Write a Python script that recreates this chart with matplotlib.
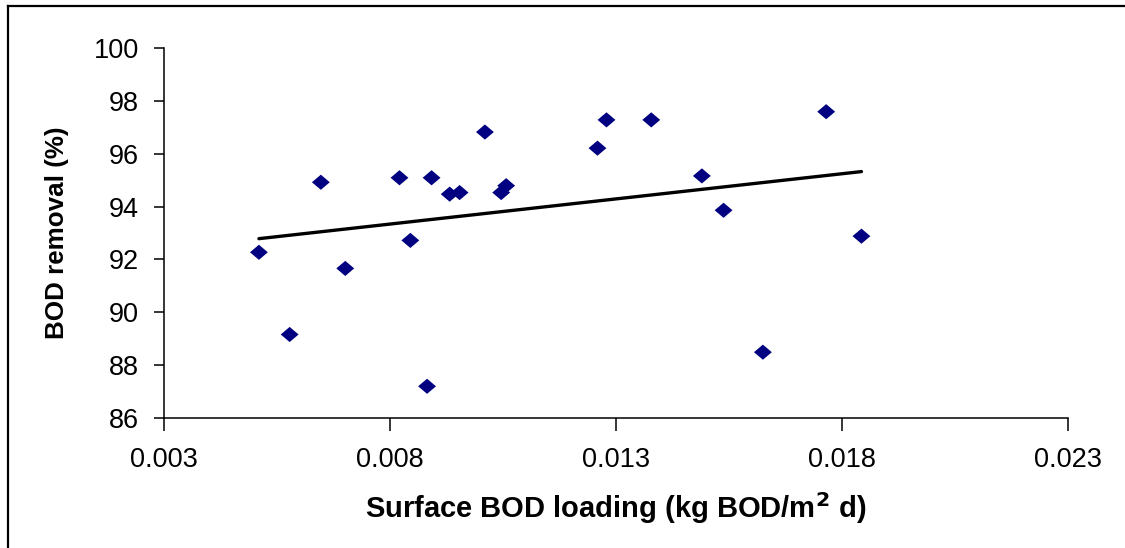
import numpy as np
import matplotlib.pyplot as plt
from matplotlib.lines import Line2D

# Surface BOD loading (kg BOD/m2 d) and BOD removal (%)
loading = [0.00510, 0.00578, 0.00647, 0.00701, 0.00821, 0.00845, 0.00882,
           0.00892, 0.00932, 0.00954, 0.01010, 0.01046, 0.01057, 0.01259,
           0.01279, 0.01378, 0.01490, 0.01538, 0.01625, 0.01765, 0.01843]
removal = [92.27, 89.16, 94.92, 91.66, 95.09, 92.72, 87.20,
           95.09, 94.47, 94.53, 96.82, 94.53, 94.79, 96.21,
           97.28, 97.28, 95.16, 93.86, 88.49, 97.59, 92.88]

x_ticks = [0.003, 0.008, 0.013, 0.018, 0.023]
y_ticks = [86, 88, 90, 92, 94, 96, 98, 100]

plt.rcParams['font.family'] = ['Liberation Sans', 'DejaVu Sans']

fig = plt.figure(figsize=(11.25, 5.48), dpi=100)
ax = fig.add_axes([164 / 1125, 1 - 418 / 548, (1068 - 164) / 1125, (418 - 48) / 548])

# linear trend line over the data range
slope, intercept = np.polyfit(loading, removal, 1)
xl = np.array([min(loading), max(loading)])
ax.plot(xl, slope * xl + intercept, color='black', lw=2.4, solid_capstyle='round', zorder=2)

diamond = [(-1, 0), (0, 0.85), (1, 0), (0, -0.85), (-1, 0)]
ax.scatter(loading, removal, marker=diamond, s=165, color='#000080', edgecolors='none', zorder=3)

ax.set_xlim(0.003, 0.023)
ax.set_ylim(86, 100)
ax.set_xticks(x_ticks)
ax.set_xticklabels([f'{t:.3f}' for t in x_ticks])
ax.set_yticks(y_ticks)
ax.tick_params(direction='out', length=7, width=1.1, labelsize=19.5, pad=11)
ax.tick_params(axis='x', length=9, pad=12)
for s in ['top', 'right']:
    ax.spines[s].set_visible(False)
for s in ['left', 'bottom']:
    ax.spines[s].set_linewidth(1.1)

ax.set_xlabel('Surface BOD loading (kg BOD/m$^\\mathbf{2}$ d)', fontsize=21, fontweight='bold', labelpad=12)
ax.set_ylabel('BOD removal (%)', fontsize=18.7, fontweight='bold', labelpad=18)

# chart area border (only left and top visible in the crop)
fig.add_artist(Line2D([8 / 1125, 8 / 1125], [0, 1 - 6 / 548], color='black', lw=1.6))
fig.add_artist(Line2D([8 / 1125, 1], [1 - 6 / 548, 1 - 6 / 548], color='black', lw=1.6))

fig.savefig('out.png', dpi=100)
